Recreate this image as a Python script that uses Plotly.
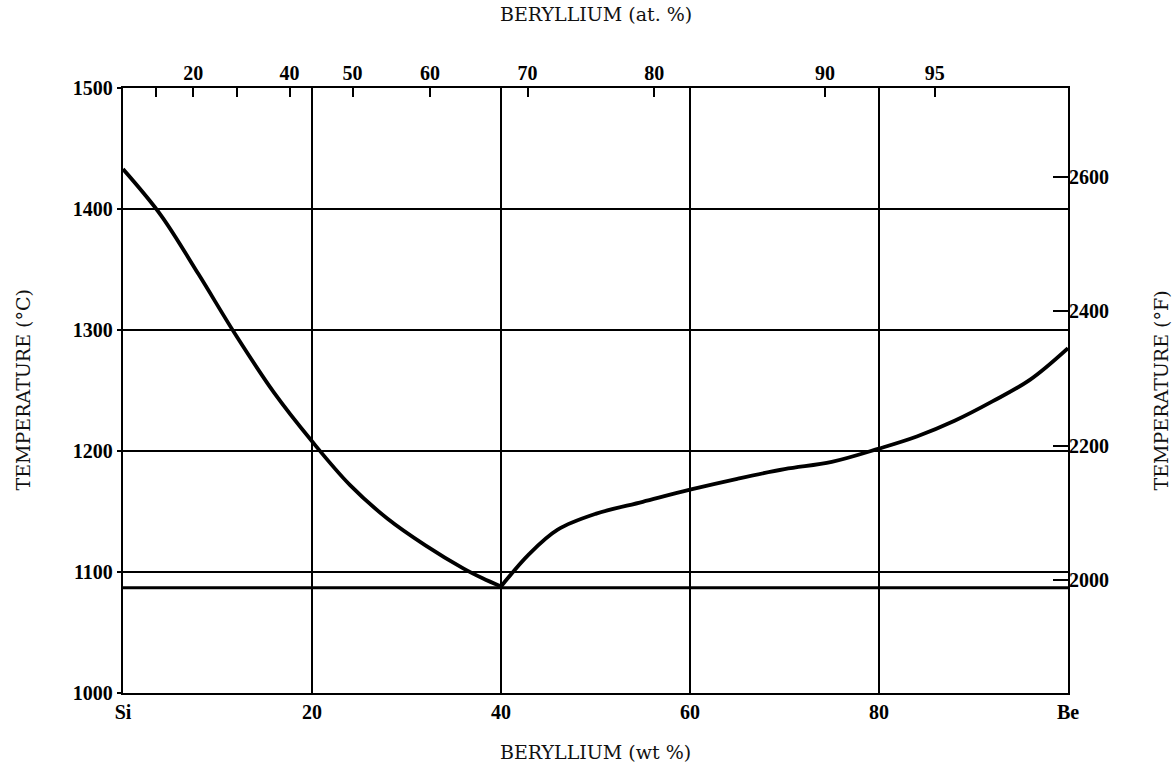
import plotly.graph_objects as go

# Liquidus of the Be-Si system: composition in wt% Be, temperature in deg C
# Si-rich branch (down to the eutectic) and Be-rich branch (up from the eutectic)
wt_si_side = [0, 4, 8, 12, 16, 20, 24, 28, 32, 36, 38, 40]
liq_si_side = [1433, 1395, 1346, 1295, 1248, 1208, 1172, 1144, 1122, 1103, 1095, 1088]
wt_be_side = [40, 43, 46, 50, 55, 60, 65, 70, 75, 80, 84, 88, 92, 96, 100]
liq_be_side = [1088, 1115, 1135, 1148, 1158, 1168, 1177, 1185, 1191, 1202, 1212, 1225, 1241, 1259, 1285]

# Eutectic isotherm
eutectic_c = 1087
eutectic_span = [0, 100]

# Bottom axis (wt%) labels
wt_ticks = [0, 20, 40, 60, 80, 100]
wt_labels = ["Si", "20", "40", "60", "80", "Be"]

# Top axis (at.%) ticks
at_ticks = [10, 20, 30, 40, 50, 60, 70, 80, 90, 95]
at_labels = ["", "20", "", "40", "50", "60", "70", "80", "90", "95"]

# Temperature axes
c_ticks = [1000, 1100, 1200, 1300, 1400, 1500]
f_ticks = [2000, 2200, 2400, 2600]

M_BE, M_SI = 9.012, 28.086


def at_to_wt(a):
    return 100.0 * a * M_BE / (a * M_BE + (100.0 - a) * M_SI)


def c_to_f(c):
    return c * 1.8 + 32


c_range = [1000, 1500]

fig = go.Figure()

fig.add_trace(go.Scatter(
    x=eutectic_span, y=[eutectic_c, eutectic_c], mode="lines",
    line=dict(color="black", width=3.2), hoverinfo="skip", showlegend=False))

for xs, ys in ((wt_si_side, liq_si_side), (wt_be_side, liq_be_side)):
    fig.add_trace(go.Scatter(
        x=xs, y=ys, mode="lines",
        line=dict(color="black", width=3.8, shape="spline", smoothing=1.0),
        showlegend=False))

# invisible carrier for the secondary axes
fig.add_trace(go.Scatter(
    x=[0, 100], y=[c_to_f(c_range[0]), c_to_f(c_range[1])], xaxis="x2", yaxis="y2",
    mode="markers", marker=dict(opacity=0), hoverinfo="skip", showlegend=False))

tick_font = dict(family="Liberation Serif", size=20, color="black", weight="bold")
title_font = dict(family="DejaVu Serif", size=19, color="#111")

plot_w = 1173 - 123 - 105
plot_h = 773 - 88 - 80

fig.update_layout(
    width=1173, height=773,
    margin=dict(l=123, r=105, t=88, b=80),
    paper_bgcolor="white", plot_bgcolor="white",
    xaxis=dict(
        range=[0, 100], tickvals=wt_ticks, ticktext=wt_labels,
        showgrid=True, gridcolor="black", gridwidth=1.7,
        showline=True, linecolor="black", linewidth=2.4, mirror=True,
        ticks="", tickfont=tick_font, zeroline=False),
    xaxis2=dict(
        range=[0, 100], overlaying="x", side="top",
        tickvals=[at_to_wt(a) for a in at_ticks], ticktext=at_labels,
        ticks="inside", ticklen=9, tickwidth=2, tickcolor="black",
        ticklabelstandoff=3,
        showgrid=False, zeroline=False, tickfont=tick_font),
    yaxis=dict(
        range=c_range, tickvals=c_ticks,
        showgrid=True, gridcolor="black", gridwidth=1.7,
        showline=True, linecolor="black", linewidth=2.4, mirror=True,
        ticks="outside", ticklen=4, tickwidth=1.5, tickcolor="black",
        tickfont=tick_font, zeroline=False),
    yaxis2=dict(
        range=[c_to_f(c_range[0]), c_to_f(c_range[1])], overlaying="y", side="right",
        tickvals=f_ticks, ticks="inside", ticklen=15, tickwidth=2, tickcolor="black",
        showgrid=False, zeroline=False, tickfont=tick_font),
    annotations=[
        dict(text="BERYLLIUM (at. %)", xref="paper", yref="paper",
             x=0.5, y=1 + (88 - 14) / plot_h, yanchor="middle",
             showarrow=False, font=title_font),
        dict(text="BERYLLIUM (wt %)", xref="paper", yref="paper",
             x=0.5, y=-(752 - 693) / plot_h, yanchor="middle",
             showarrow=False, font=title_font),
        dict(text="TEMPERATURE (°C)", xref="paper", yref="paper",
             x=-(123 - 22) / plot_w, y=0.5, xanchor="center",
             showarrow=False, textangle=-90, font=title_font),
        dict(text="TEMPERATURE (°F)", xref="paper", yref="paper",
             x=1 + (1160 - 1068) / plot_w, y=0.5, xanchor="center",
             showarrow=False, textangle=-90, font=title_font),
    ],
)

fig.write_html("out.html")
